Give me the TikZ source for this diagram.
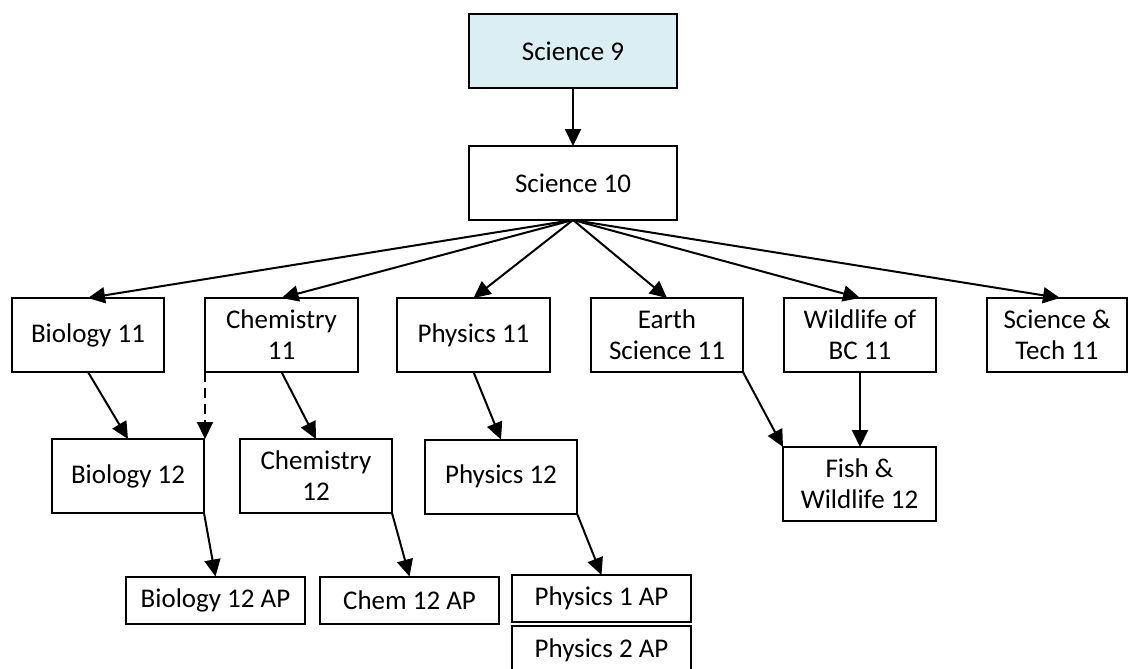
\documentclass[tikz,border=0pt]{standalone}
\usepackage{fontspec}
\setmainfont{Carlito}
\usetikzlibrary{arrows.meta}
\definecolor{topfill}{RGB}{219,238,244}
\begin{document}
\begin{tikzpicture}[x=1pt,y=-1pt,
  course/.style={draw, line width=2pt, outer sep=0pt, inner sep=0pt,
    align=center, minimum width=152pt, minimum height=74pt,
    font=\fontsize{27}{31}\selectfont},
  apbox/.style={course, minimum width=179pt, minimum height=47pt},
  link/.style={line width=2pt, -{Triangle[length=17pt,width=16pt]}},
  optlink/.style={link, dash pattern=on 10pt off 6pt}]
\useasboundingbox (0,0) rectangle (1130,669);

% grade 9 and 10
\node[course, fill=topfill, minimum width=208pt] (s9) at (573,51) {Science 9};
\node[course, minimum width=208pt] (s10) at (573,183) {Science 10};

% grade 11
\node[course] (bio11) at (88,335) {Biology 11};
\node[course, minimum width=153pt] (chem11) at (281.5,335) {Chemistry\\11};
\node[course, minimum width=153pt] (phys11) at (473.5,335) {Physics 11};
\node[course] (earth11) at (667,335) {Earth\\Science 11};
\node[course] (wild11) at (860,335) {Wildlife of\\BC 11};
\node[course, minimum width=140pt] (tech11) at (1057,335) {Science \&\\Tech 11};

% grade 12
\node[course] (bio12) at (128,476) {Biology 12};
\node[course] (chem12) at (316,476) {Chemistry\\12};
\node[course] (phys12) at (501,476.5) {Physics 12};
\node[course, minimum width=153pt] (fish12) at (859.5,484) {Fish \&\\Wildlife 12};

% AP courses
\node[apbox] (bio12ap) at (215.5,600) {Biology 12 AP};
\node[apbox] (chem12ap) at (409.5,600) {Chem 12 AP};
\node[apbox] (phys1ap) at (601.5,598.5) {Physics 1 AP};
\node[apbox, minimum height=48pt] (phys2ap) at (601.5,650) {Physics 2 AP};

% connectors
\draw[link] (s9.south) -- (s10.north);
\draw[link] (s10.south) -- (bio11.north);
\draw[link] (s10.south) -- (chem11.north);
\draw[link] (s10.south) -- (phys11.north);
\draw[link] (s10.south) -- (earth11.north);
\draw[link] (s10.south) -- (wild11.north);
\draw[link] (s10.south) -- ([xshift=3pt]tech11.north);
\draw[link] (bio11.south) -- (bio12.north);
\draw[optlink] (chem11.south west) -- (chem11.south west |- bio12.north);
\draw[link] (chem11.south) -- (chem12.north);
\draw[link] (phys11.south) -- (phys12.north);
\draw[link] (bio12.south east) -- (bio12ap.north);
\draw[link] (chem12.south east) -- (chem12ap.north);
\draw[link] (phys12.south east) -- (phys1ap.north);
\draw[link] (earth11.south east) -- (fish12.north west);
\draw[link] (wild11.south) -- (fish12.north -| wild11.south);
\end{tikzpicture}
\end{document}
